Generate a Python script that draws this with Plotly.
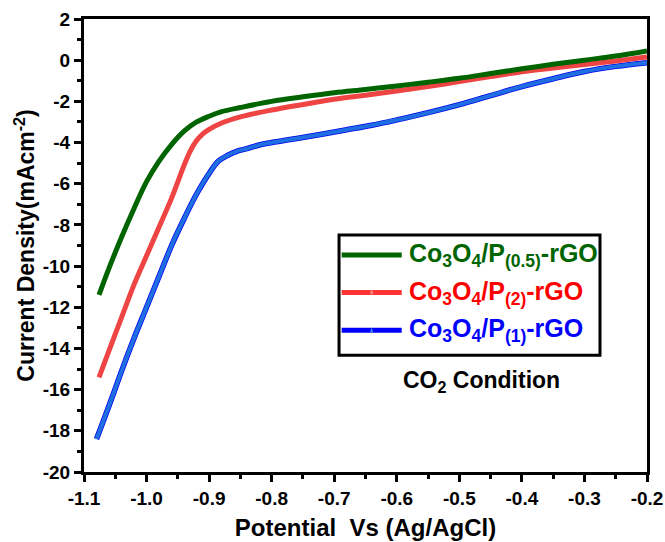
import plotly.graph_objects as go

# ---- data ----
green_x = [-1.076, -1.06, -1.04, -1.02, -1.0, -0.98, -0.96, -0.94, -0.92, -0.90, -0.88, -0.85,
           -0.80, -0.75, -0.70, -0.65, -0.60, -0.55, -0.50, -0.45, -0.40, -0.35, -0.30, -0.25, -0.20]
green_y = [-11.4, -10.1, -8.6, -7.2, -5.9, -4.9, -4.1, -3.45, -3.0, -2.72, -2.5, -2.3,
           -2.0, -1.78, -1.58, -1.42, -1.25, -1.07, -0.88, -0.65, -0.42, -0.2, 0.0, 0.2, 0.45]

red_x = [-1.076, -1.06, -1.04, -1.02, -1.0, -0.98, -0.96, -0.94, -0.93, -0.92, -0.91, -0.90, -0.88, -0.85,
         -0.80, -0.75, -0.70, -0.65, -0.60, -0.55, -0.50, -0.45, -0.40, -0.35, -0.30, -0.25, -0.20]
red_y = [-15.4, -14.1, -12.5, -10.9, -9.5, -8.1, -6.7, -5.1, -4.4, -3.9, -3.58, -3.36, -3.05, -2.75,
         -2.42, -2.15, -1.9, -1.7, -1.5, -1.28, -1.04, -0.8, -0.56, -0.38, -0.21, -0.04, 0.15]

blue_x = [-1.08, -1.07, -1.053, -1.04, -1.02, -1.0, -0.98, -0.96, -0.94, -0.92, -0.90, -0.885,
          -0.87, -0.855, -0.84, -0.82, -0.80, -0.76, -0.72, -0.68, -0.64, -0.60, -0.55, -0.50,
          -0.45, -0.40, -0.35, -0.30, -0.25, -0.20]
blue_y = [-18.4, -17.6, -16.2, -15.1, -13.5, -12.0, -10.5, -9.0, -7.7, -6.5, -5.5, -4.9,
          -4.62, -4.42, -4.3, -4.12, -4.0, -3.8, -3.6, -3.38, -3.16, -2.9, -2.55, -2.16,
          -1.72, -1.28, -0.9, -0.55, -0.3, -0.12]

legend_labels = ["Co<sub>3</sub>O<sub>4</sub>/P<sub>(0.5)</sub>-rGO",
                 "Co<sub>3</sub>O<sub>4</sub>/P<sub>(2)</sub>-rGO",
                 "Co<sub>3</sub>O<sub>4</sub>/P<sub>(1)</sub>-rGO"]
curve_colors = ["#006400", "#EE4444", "#1F6FE2"]
legend_line_colors = ["#006400", "#FF3333", "#0000FF"]
legend_text_colors = ["#006400", "#FF0000", "#0000FF"]

x_ticks = [-1.1, -1.0, -0.9, -0.8, -0.7, -0.6, -0.5, -0.4, -0.3, -0.2]
x_tick_text = ["-1.1", "-1.0", "-0.9", "-0.8", "-0.7", "-0.6", "-0.5", "-0.4", "-0.3", "-0.2"]
y_ticks = [2, 0, -2, -4, -6, -8, -10, -12, -14, -16, -18, -20]

FONT = "Liberation Sans, Arial, sans-serif"

fig = go.Figure()
# blue: dark edge underneath, lighter core
fig.add_trace(go.Scatter(x=blue_x, y=blue_y, mode="lines", line=dict(color="#0000EE", width=5.5, shape="spline"),
                         showlegend=False, hoverinfo="skip"))
fig.add_trace(go.Scatter(x=blue_x, y=blue_y, mode="lines", line=dict(color=curve_colors[2], width=4, shape="spline"),
                         showlegend=False))
fig.add_trace(go.Scatter(x=red_x, y=red_y, mode="lines", line=dict(color=curve_colors[1], width=5, shape="spline"),
                         showlegend=False))
fig.add_trace(go.Scatter(x=green_x, y=green_y, mode="lines", line=dict(color=curve_colors[0], width=5, shape="spline"),
                         showlegend=False))

# manual legend (paper coordinates)
box = dict(x0=0.453, x1=0.9165, y0=0.258, y1=0.523)
fig.add_shape(type="rect", xref="paper", yref="paper", line=dict(color="black", width=3),
              fillcolor="white", layer="above", **box)
rows = [0.479, 0.396, 0.313]
for i, yv in enumerate(rows):
    fig.add_shape(type="line", xref="paper", yref="paper", x0=0.4577, x1=0.5643, y0=yv, y1=yv,
                  line=dict(color=legend_line_colors[i], width=5), layer="above")
    fig.add_annotation(xref="paper", yref="paper", x=0.574, y=yv, xanchor="left", yanchor="middle",
                       text="<b>" + legend_labels[i] + "</b>", showarrow=False,
                       font=dict(family=FONT, size=25, color=legend_text_colors[i]))
# tiny symbol marks on the legend lines (red circle, blue triangle)
fig.add_shape(type="circle", xref="paper", yref="paper", x0=0.5085, x1=0.5135, y0=rows[1] - 0.0055, y1=rows[1] + 0.0055,
              line=dict(width=0), fillcolor="#F08080", layer="above")
fig.add_shape(type="path", xref="paper", yref="paper",
              path="M 0.5082 %.4f L 0.5138 %.4f L 0.511 %.4f Z" % (rows[2] - 0.005, rows[2] - 0.005, rows[2] + 0.006),
              line=dict(width=0), fillcolor="#3C8CE8", layer="above")

fig.add_annotation(xref="paper", yref="paper", x=0.706, y=0.2, xanchor="center", yanchor="middle",
                   text="<b>CO<sub>2</sub> Condition</b>", showarrow=False,
                   font=dict(family=FONT, size=23, color="black"))

fig.update_layout(
    width=665, height=542,
    margin=dict(l=84, r=18, t=19, b=70),
    paper_bgcolor="white", plot_bgcolor="white",
    font=dict(family=FONT, size=20, color="black"),
    xaxis=dict(range=[-1.1, -0.2], tickvals=x_ticks, ticktext=["<b>%s</b>" % t for t in x_tick_text],
               showline=True, linewidth=3, linecolor="black", mirror=True,
               ticks="outside", ticklen=7, tickwidth=3, tickcolor="black",
               minor=dict(dtick=0.05, ticks="outside", ticklen=4, tickwidth=3, tickcolor="black"),
               showgrid=False, zeroline=False, automargin=False,
               tickfont=dict(size=19, family=FONT),
               title=dict(text="<b>Potential  Vs (Ag/AgCl)</b>", font=dict(size=24, family=FONT), standoff=12)),
    yaxis=dict(range=[-20, 2], tickvals=y_ticks, ticktext=["<b>%d</b>" % v for v in y_ticks],
               showline=True, linewidth=3, linecolor="black", mirror=True,
               ticks="outside", ticklen=7, tickwidth=3, tickcolor="black",
               minor=dict(dtick=1, ticks="outside", ticklen=4, tickwidth=3, tickcolor="black"),
               showgrid=False, zeroline=False, automargin=False,
               tickfont=dict(size=19, family=FONT),
               title=dict(text="<b>Current Density(mAcm<sup>-2</sup>)</b>", font=dict(size=23, family=FONT), standoff=2)),
)

fig.write_html("out.html")
